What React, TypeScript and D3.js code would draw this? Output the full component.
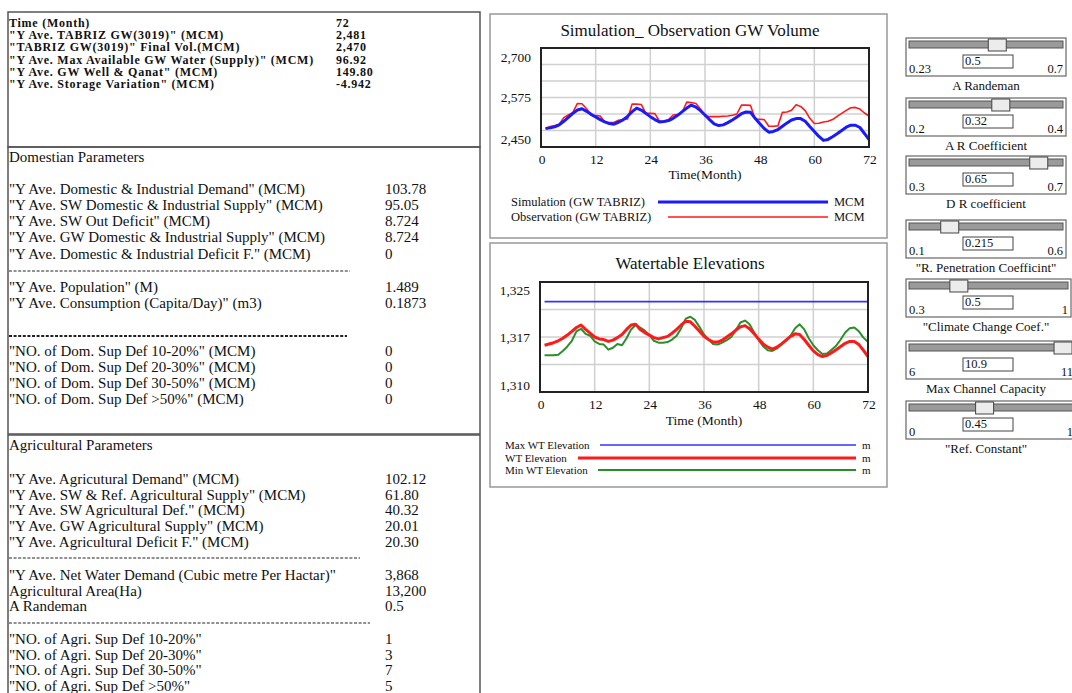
import React, { useRef, useEffect } from 'react';
import * as d3 from 'd3';

// ---- summary box (bold) ----
const summaryLabels = [
  'Time (Month)',
  '"Y Ave. TABRIZ GW(3019)" (MCM)',
  '"TABRIZ GW(3019)" Final Vol.(MCM)',
  '"Y Ave. Max Available GW Water (Supply)" (MCM)',
  '"Y Ave. GW Well & Qanat" (MCM)',
  '"Y Ave. Storage Variation" (MCM)',
];
const summaryValues = ['72', '2,481', '2,470', '96.92', '149.80', '-4.942'];

// ---- domestic parameters ----
const domLabelsA = [
  '"Y Ave. Domestic & Industrial Demand" (MCM)',
  '"Y Ave. SW Domestic & Industrial Supply" (MCM)',
  '"Y Ave. SW Out Deficit" (MCM)',
  '"Y Ave. GW Domestic & Industrial Supply" (MCM)',
  '"Y Ave. Domestic & Industrial Deficit F." (MCM)',
];
const domValuesA = ['103.78', '95.05', '8.724', '8.724', '0'];
const domLabelsB = ['"Y Ave. Population" (M)', '"Y Ave. Consumption (Capita/Day)" (m3)'];
const domValuesB = ['1.489', '0.1873'];
const domLabelsC = [
  '"NO. of Dom. Sup Def 10-20%" (MCM)',
  '"NO. of Dom. Sup Def 20-30%" (MCM)',
  '"NO. of Dom. Sup Def 30-50%" (MCM)',
  '"NO. of Dom. Sup Def >50%" (MCM)',
];
const domValuesC = ['0', '0', '0', '0'];

// ---- agricultural parameters ----
const agrLabelsA = [
  '"Y Ave. Agricutural Demand" (MCM)',
  '"Y Ave. SW & Ref. Agricultural Supply" (MCM)',
  '"Y Ave. SW Agricultural Def." (MCM)',
  '"Y Ave. GW Agricultural Supply" (MCM)',
  '"Y Ave. Agricultural Deficit F." (MCM)',
];
const agrValuesA = ['102.12', '61.80', '40.32', '20.01', '20.30'];
const agrLabelsB = ['"Y Ave. Net Water Demand (Cubic metre Per Hactar)"', 'Agricultural Area(Ha)', 'A Randeman'];
const agrValuesB = ['3,868', '13,200', '0.5'];
const agrLabelsC = [
  '"NO. of Agri. Sup Def 10-20%"',
  '"NO. of Agri. Sup Def 20-30%"',
  '"NO. of Agri. Sup Def 30-50%"',
  '"NO. of Agri. Sup Def >50%"',
];
const agrValuesC = ['1', '3', '7', '5'];

// ---- chart 1: GW volume, months 1..72 ----
const simGW = [
  2481, 2483, 2486, 2492, 2503, 2515, 2527, 2537, 2541, 2533, 2524, 2516,
  2508, 2501, 2496, 2494, 2500, 2507, 2518, 2532, 2543, 2537, 2527, 2517,
  2508, 2501, 2502, 2505, 2512, 2521, 2532, 2543, 2552, 2546, 2535, 2522,
  2508, 2495, 2490, 2492, 2499, 2507, 2516, 2526, 2531, 2530, 2512, 2496,
  2481, 2470, 2472, 2478, 2488, 2498, 2507, 2511, 2511, 2503, 2487, 2472,
  2457, 2445, 2448, 2456, 2465, 2475, 2485, 2491, 2491, 2484, 2466, 2447,
];
const obsGW = [
  2481, 2487, 2490, 2494, 2514, 2522, 2530, 2557, 2556, 2541, 2521, 2520,
  2519, 2500, 2499, 2499, 2506, 2508, 2510, 2555, 2555, 2554, 2528, 2527,
  2526, 2503, 2503, 2508, 2522, 2523, 2531, 2561, 2560, 2557, 2540, 2519,
  2517, 2517, 2517, 2518, 2519, 2521, 2525, 2552, 2552, 2551, 2510, 2509,
  2508, 2488, 2488, 2489, 2530, 2531, 2536, 2553, 2548, 2535, 2512, 2496,
  2497, 2501, 2503, 2508, 2518, 2527, 2536, 2544, 2545, 2540, 2528, 2519,
];
const gwTicks = [2450, 2575, 2700];
const monthTicks = [0, 12, 24, 36, 48, 60, 72];

// ---- chart 2: watertable elevations ----
const maxWTLevel = 1322.7;
const wtElev = [
  1315.8, 1316.0, 1316.2, 1316.5, 1316.9, 1317.4, 1318.0, 1318.6, 1319.0, 1318.3, 1317.7, 1317.1,
  1316.8, 1316.7, 1316.4, 1316.6, 1317.0, 1317.5, 1318.3, 1319.0, 1319.1, 1318.3, 1317.8, 1317.4,
  1317.0, 1316.8, 1317.0, 1317.2, 1317.7, 1318.3, 1319.0, 1319.6, 1319.5, 1318.8, 1318.0, 1317.2,
  1316.7, 1316.3, 1316.3, 1316.6, 1317.1, 1317.6, 1318.2, 1318.7, 1318.9, 1318.4, 1317.6, 1316.8,
  1316.0, 1315.5, 1315.2, 1315.5, 1316.0, 1316.6, 1317.2, 1317.6, 1317.5, 1316.7, 1315.8, 1314.9,
  1314.3, 1314.0, 1314.2, 1314.6, 1315.1, 1315.6, 1316.1, 1316.4, 1316.4, 1315.9, 1315.0, 1314.0,
];
const minWT = [
  1314.2, 1314.2, 1314.2, 1314.3, 1314.9, 1315.6, 1316.5, 1318.0, 1318.4, 1317.6, 1317.3, 1316.4,
  1316.0, 1315.9, 1315.1, 1315.4, 1316.0, 1315.8, 1316.9, 1318.3, 1319.0, 1318.6, 1318.1, 1317.4,
  1316.5, 1316.2, 1316.2, 1316.3, 1316.7, 1317.3, 1318.5, 1320.0, 1320.3, 1319.8, 1318.7, 1317.5,
  1316.7, 1316.0, 1315.9, 1316.2, 1316.6, 1317.1, 1318.2, 1319.4, 1319.7, 1319.1, 1317.8, 1316.6,
  1315.6, 1315.0, 1314.9, 1315.3, 1315.9, 1316.5, 1317.3, 1318.5, 1319.1, 1318.3, 1316.9, 1315.8,
  1315.0, 1314.4, 1314.5, 1315.1, 1315.7, 1316.7, 1317.8, 1318.5, 1318.6, 1318.0, 1317.0, 1316.3,
];
const wtTicks = [1310, 1317, 1325];

// ---- sliders ----
const sliderNames = [
  'A Randeman', 'A R Coefficient', 'D R coefficient', '"R. Penetration Coefficint"',
  '"Climate Change Coef."', 'Max Channel Capacity', '"Ref. Constant"',
];
const sliderValues = [0.5, 0.32, 0.65, 0.215, 0.5, 10.9, 0.45];
const sliderMins = [0.23, 0.2, 0.3, 0.1, 0.3, 6, 0];
const sliderMaxs = [0.7, 0.4, 0.7, 0.6, 1, 11, 1];

const FONT = '"Liberation Serif", "Times New Roman", serif';

const App: React.FC = () => {
  const svgRef = useRef<SVGSVGElement | null>(null);

  useEffect(() => {
    if (!svgRef.current) return;
    const svg = d3.select(svgRef.current);
    svg.selectAll('*').remove();

    const txt = (x: number, y: number, s: string, size: number, opts: any = {}) =>
      svg.append('text')
        .attr('x', x).attr('y', y).attr('dy', '0.35em')
        .attr('font-family', FONT)
        .attr('font-size', size)
        .attr('font-weight', opts.bold ? 'bold' : 'normal')
        .attr('letter-spacing', opts.ls || 0)
        .attr('text-anchor', opts.anchor || 'start')
        .attr('fill', opts.fill || '#111')
        .text(s);

    const rows = (labels: string[], values: string[], y0: number, step: number, size: number, valueX: number, bold = false, ls = 0) => {
      labels.forEach((l, i) => {
        txt(9, y0 + i * step, l, size, { bold, ls });
        txt(valueX, y0 + i * step, values[i], size, { bold, ls });
      });
    };

    const dash = (y: number, x2: number, w = 1) =>
      svg.append('line').attr('x1', 9).attr('x2', x2).attr('y1', y).attr('y2', y)
        .attr('stroke', '#222').attr('stroke-width', w).attr('stroke-dasharray', '3,1.6');

    // ---- left boxes ----
    svg.append('rect').attr('x', 8).attr('y', 12).attr('width', 472).attr('height', 135)
      .attr('fill', 'none').attr('stroke', '#555').attr('stroke-width', 1.5);
    svg.append('rect').attr('x', 8).attr('y', 147).attr('width', 472).attr('height', 287)
      .attr('fill', 'none').attr('stroke', '#555').attr('stroke-width', 1.5);
    svg.append('rect').attr('x', 8).attr('y', 435).attr('width', 472).attr('height', 270)
      .attr('fill', 'none').attr('stroke', '#555').attr('stroke-width', 1.5);

    rows(summaryLabels, summaryValues, 23, 12.1, 12, 336, true, 0.75);

    txt(9, 157, 'Domestian Parameters', 15);
    rows(domLabelsA, domValuesA, 188.5, 16.2, 15, 385);
    dash(271, 350);
    rows(domLabelsB, domValuesB, 287, 15.8, 15, 385);
    dash(336, 347, 2);
    rows(domLabelsC, domValuesC, 351, 16, 15, 385);

    txt(9, 445, 'Agricultural Parameters', 15);
    rows(agrLabelsA, agrValuesA, 478.5, 15.85, 15, 385);
    dash(558, 360);
    rows(agrLabelsB, agrValuesB, 574.5, 15.8, 15, 385);
    dash(623, 370);
    rows(agrLabelsC, agrValuesC, 639, 15.6, 15, 385);

    // ---- chart panels ----
    const months = d3.range(1, 73);

    const drawChart = (cfg: any) => {
      svg.append('rect').attr('x', 490).attr('y', cfg.panelTop).attr('width', 397).attr('height', cfg.panelH)
        .attr('fill', '#fff').attr('stroke', '#999').attr('stroke-width', 1.5);
      txt(690, cfg.titleY, cfg.title, 17, { anchor: 'middle' });

      const x = d3.scaleLinear().domain([0, 72]).range([cfg.x0, cfg.x1]);
      const y = d3.scaleLinear().domain(cfg.domain).range([cfg.y1, cfg.y0]);

      const g = svg.append('g');
      g.selectAll('line.h').data(cfg.grid).join('line')
        .attr('x1', cfg.x0).attr('x2', cfg.x1)
        .attr('y1', (d: number) => y(d)).attr('y2', (d: number) => y(d))
        .attr('stroke', '#d0d0d0').attr('stroke-width', 1.5);
      g.selectAll('line.v').data([12, 24, 36, 48, 60]).join('line')
        .attr('y1', cfg.y0).attr('y2', cfg.y1)
        .attr('x1', (d: number) => x(d)).attr('x2', (d: number) => x(d))
        .attr('stroke', '#d0d0d0').attr('stroke-width', 1.5);

      const line = d3.line<number>().x((_, i) => x(months[i])).y(d => y(d));
      cfg.series.forEach((s: any) => {
        svg.append('path').datum(s.values).attr('d', line)
          .attr('fill', 'none').attr('stroke', s.color).attr('stroke-width', s.width)
          .attr('stroke-linejoin', 'round');
      });

      svg.append('rect').attr('x', cfg.x0).attr('y', cfg.y0)
        .attr('width', cfg.x1 - cfg.x0).attr('height', cfg.y1 - cfg.y0)
        .attr('fill', 'none').attr('stroke', '#222').attr('stroke-width', 2);

      cfg.yTicks.forEach((t: number) => txt(cfg.x0 - 10, y(t) + cfg.yLabelDy(t), d3.format(',')(t), 13.5, { anchor: 'end' }));
      monthTicks.forEach(t => txt(x(t) + 1, cfg.y1 + 12, String(t), 13.5, { anchor: 'middle' }));
      txt((cfg.x0 + cfg.x1) / 2, cfg.y1 + cfg.xTitleDy, cfg.xTitle, 13.5, { anchor: 'middle' });

      cfg.legend.forEach((l: any) => {
        txt(cfg.legX, l.y, l.label, cfg.legSize);
        svg.append('line').attr('x1', l.lx).attr('x2', cfg.legEnd).attr('y1', l.y).attr('y2', l.y)
          .attr('stroke', l.color).attr('stroke-width', l.width);
        txt(cfg.legEnd + 6, l.y, cfg.unit, cfg.legSize);
      });
    };

    drawChart({
      panelTop: 14, panelH: 224, titleY: 30, title: 'Simulation_ Observation GW Volume',
      x0: 541, x1: 869, y0: 48, y1: 147, domain: [2425, 2725],
      grid: d3.range(2475, 2700, 50), yTicks: gwTicks, yLabelDy: (t: number) => (t === 2575 ? 0 : t > 2575 ? 1.5 : 1),
      xTitle: 'Time(Month)', xTitleDy: 27,
      series: [
        { values: obsGW, color: '#ff1a1a', width: 1.6 },
        { values: simGW, color: '#1a1aff', width: 3 },
      ],
      legX: 511, legEnd: 828, legSize: 12.5, unit: 'MCM',
      legend: [
        { label: 'Simulation (GW TABRIZ)', y: 202, lx: 658, color: '#1a1aff', width: 3 },
        { label: 'Observation (GW TABRIZ)', y: 217, lx: 668, color: '#ff1a1a', width: 1.6 },
      ],
    });

    const maxWT = months.map(() => maxWTLevel);
    const wtDomain = [1308.4, 1325.8];
    const wtStep = (wtDomain[1] - wtDomain[0]) / 4;
    drawChart({
      panelTop: 243, panelH: 244, titleY: 263, title: 'Watertable Elevations',
      x0: 540, x1: 868, y0: 282, y1: 392, domain: wtDomain,
      grid: [1, 2, 3].map(k => wtDomain[0] + k * wtStep), yTicks: wtTicks,
      yLabelDy: (t: number) => (t === 1317 ? 0 : 3),
      xTitle: 'Time (Month)', xTitleDy: 28,
      series: [
        { values: maxWT, color: '#3333ff', width: 1.6 },
        { values: minWT, color: '#2a8f2a', width: 2 },
        { values: wtElev, color: '#ff1a1a', width: 3 },
      ],
      legX: 505, legEnd: 856, legSize: 11, unit: 'm',
      legend: [
        { label: 'Max WT Elevation', y: 445, lx: 600, color: '#3333ff', width: 1.6 },
        { label: 'WT Elevation', y: 458, lx: 578, color: '#ff1a1a', width: 3 },
        { label: 'Min WT Elevation', y: 470, lx: 598, color: '#2a8f2a', width: 2 },
      ],
    });

    // ---- sliders ----
    const tops = [38, 98, 156, 220, 279, 341, 401];
    const widths = [160, 160, 160, 160, 165, 170, 170];
    sliderNames.forEach((name, i) => {
      const bx = 906;
      const by = tops[i];
      const bw = widths[i];
      svg.append('rect').attr('x', bx).attr('y', by).attr('width', bw).attr('height', 38)
        .attr('fill', '#fff').attr('stroke', '#666').attr('stroke-width', 1.2);
      svg.append('rect').attr('x', bx + 3).attr('y', by + 3).attr('width', bw - 6).attr('height', 7)
        .attr('fill', '#9a9a9a').attr('stroke', '#555').attr('stroke-width', 1);
      const hs = d3.scaleLinear().domain([sliderMins[i], sliderMaxs[i]]).range([bx + 12, bx + bw - 10]);
      svg.append('rect').attr('x', hs(sliderValues[i]) - 9).attr('y', by + 1).attr('width', 18).attr('height', 12)
        .attr('fill', '#ececec').attr('stroke', '#444').attr('stroke-width', 1);
      svg.append('rect').attr('x', bx + 57).attr('y', by + 17).attr('width', 50).attr('height', 13)
        .attr('fill', '#fff').attr('stroke', '#444').attr('stroke-width', 1);
      txt(bx + 59, by + 23, String(sliderValues[i]), 12.5);
      txt(bx + 3, by + 31, String(sliderMins[i]), 12.5);
      txt(bx + bw - 3, by + 31, String(sliderMaxs[i]), 12.5, { anchor: 'end' });
      txt(986, by + 47, name, 13, { anchor: 'middle' });
    });
  }, []);

  return (
    <svg
      ref={svgRef}
      width={1072}
      height={693}
      style={{ position: 'absolute', left: 0, top: 0, background: '#fff' }}
    />
  );
};

export default App;
